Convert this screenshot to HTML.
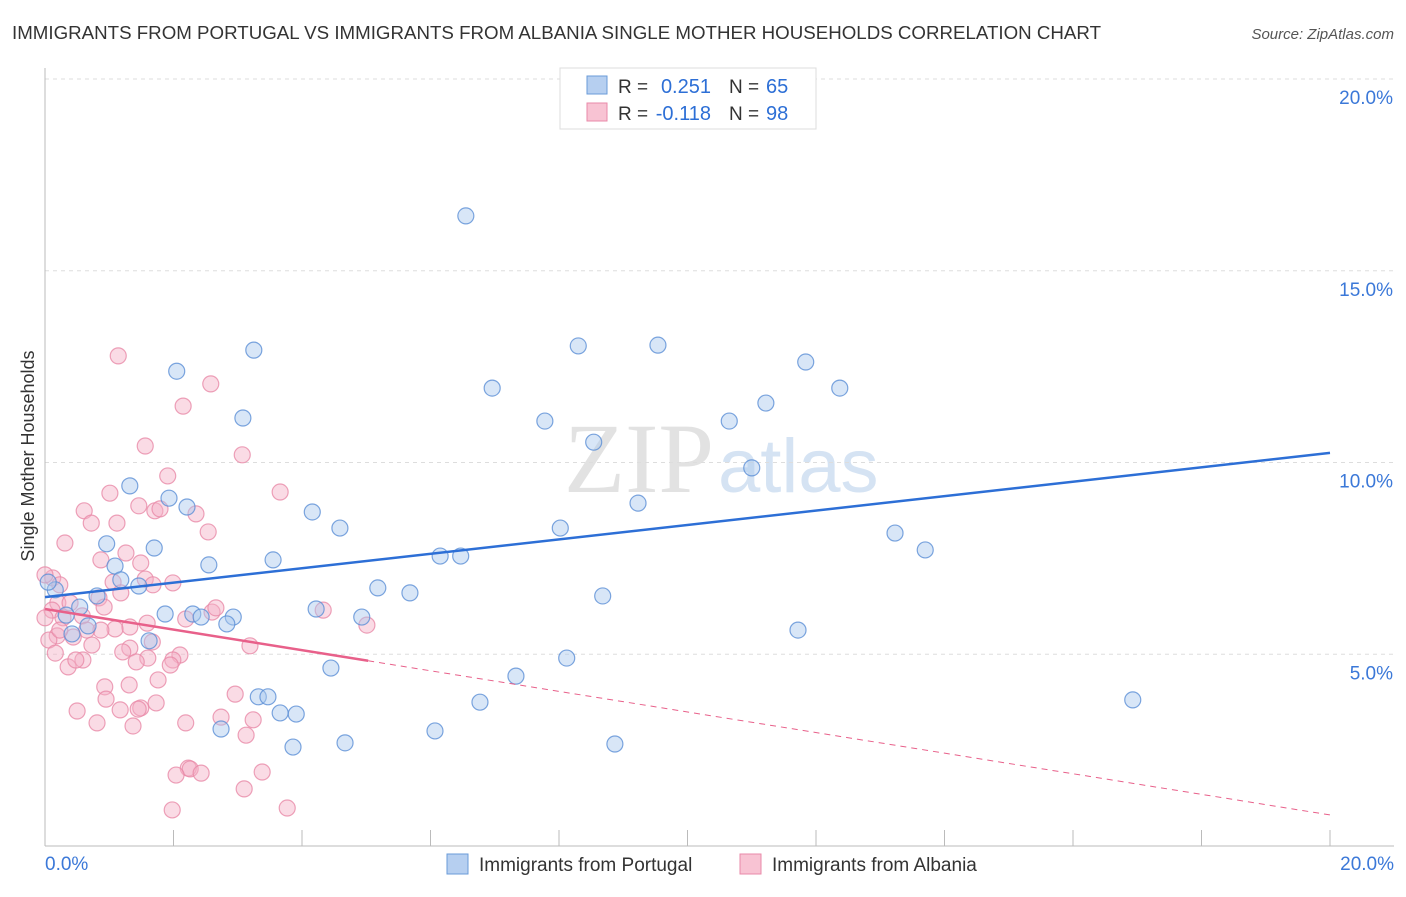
<!DOCTYPE html>
<html><head><meta charset="utf-8"><style>
body{margin:0;background:#fff;font-family:"Liberation Sans",sans-serif;}
svg text{font-family:"Liberation Sans",sans-serif;}
</style></head><body>
<svg id="chart" width="1406" height="892" viewBox="0 0 1406 892">
<text x="12" y="39" font-size="18" fill="#333" textLength="1089" lengthAdjust="spacingAndGlyphs">IMMIGRANTS FROM PORTUGAL VS IMMIGRANTS FROM ALBANIA SINGLE MOTHER HOUSEHOLDS CORRELATION CHART</text>
<text x="1394" y="39" font-size="15" fill="#555" font-style="italic" text-anchor="end">Source: ZipAtlas.com</text>
<text x="714" y="492" font-size="100" fill="#e2e2e2" text-anchor="end" font-family="Liberation Serif" style="font-family:'Liberation Serif',serif">ZIP</text>
<text x="718" y="492" font-size="76" fill="#d5e3f3">atlas</text>
<g id="grid"></g><g id="axes"></g><g id="marks"></g>
<text transform="translate(34,456) rotate(-90)" font-size="18" fill="#333" text-anchor="middle">Single Mother Households</text>
<g>
<rect x="560" y="68" width="256" height="61" fill="#fff" stroke="#ddd"/>
<rect x="587" y="76" width="20" height="18" fill="#b6cff0" stroke="#6a9bd8"/>
<rect x="587" y="103" width="20" height="18" fill="#f8c3d3" stroke="#e98aa8"/>
<text x="618" y="93" font-size="19" fill="#333">R =</text>
<text x="711" y="93" font-size="20" fill="#2d6fd6" text-anchor="end">0.251</text>
<text x="729" y="93" font-size="19" fill="#333">N =</text>
<text x="766" y="93" font-size="20" fill="#2d6fd6">65</text>
<text x="618" y="120" font-size="19" fill="#333">R =</text>
<text x="711" y="120" font-size="20" fill="#2d6fd6" text-anchor="end">-0.118</text>
<text x="729" y="120" font-size="19" fill="#333">N =</text>
<text x="766" y="120" font-size="20" fill="#2d6fd6">98</text>
</g>
<g>
<rect x="447" y="854" width="21" height="20" fill="#b6cff0" stroke="#6a9bd8"/>
<text x="479" y="871" font-size="19" fill="#333">Immigrants from Portugal</text>
<rect x="740" y="854" width="21" height="20" fill="#f8c3d3" stroke="#e98aa8"/>
<text x="772" y="871" font-size="19" fill="#333">Immigrants from Albania</text>
</g>
</svg>
<script>
const yTicks=[5,10,15,20];
const yTickLabels=["5.0%","10.0%","15.0%","20.0%"];
const xTickLabels=["0.0%","20.0%"];
const blueX=[6.55,3.25,8.30,9.54,2.05,11.84,6.96,12.37,3.08,7.78,10.65,11.22,8.54,11.00,1.32,1.93,2.21,4.16,4.59,9.23,8.02,13.23,13.70,0.96,1.70,2.55,3.55,6.15,6.47,1.09,1.18,1.46,0.81,5.18,5.68,8.68,0.16,0.05,0.54,0.33,1.87,2.30,2.43,2.93,2.83,4.22,4.93,0.67,0.42,1.62,11.72,8.12,4.45,7.33,6.77,3.32,3.47,3.66,3.91,2.74,6.07,3.86,4.67,8.87,16.93];
const blueY=[16.43,12.93,13.04,13.06,12.38,12.62,11.94,11.94,11.16,11.08,11.08,11.55,10.53,9.86,9.39,9.07,8.84,8.71,8.29,8.94,8.29,8.16,7.72,7.88,7.77,7.33,7.46,7.56,7.56,7.30,6.94,6.78,6.52,6.73,6.60,6.52,6.68,6.88,6.23,6.02,6.05,6.05,5.97,5.97,5.79,6.18,5.97,5.74,5.53,5.35,5.63,4.90,4.64,4.43,3.75,3.89,3.89,3.47,3.44,3.05,3.00,2.58,2.69,2.66,3.81];
const pinkX=[1.14,2.58,2.15,1.56,3.07,1.91,1.01,3.66,0.61,1.71,1.46,1.79,2.35,0.72,1.12,2.54,0.31,1.26,0.87,1.49,0.12,0.23,1.06,1.56,1.68,1.99,1.18,0.84,0.20,0.39,0.92,0.58,0.11,0.28,2.60,2.66,4.33,2.19,1.59,1.32,1.09,0.87,0.65,5.01,0.19,0.44,0.06,0.73,1.32,1.21,1.67,0.16,3.19,2.10,0.59,0.36,1.60,1.42,1.99,1.95,0.48,1.31,0.93,1.76,0.95,2.96,1.73,1.49,1.45,1.17,0.50,0.81,2.74,3.24,2.19,1.37,3.13,2.23,2.26,2.43,2.04,3.38,3.10,1.98,3.77,0.00,0.00,0.23];
const pinkY=[12.78,12.05,11.47,10.43,10.20,9.65,9.20,9.23,8.74,8.74,8.87,8.79,8.66,8.42,8.42,8.19,7.90,7.64,7.46,7.38,6.99,6.81,6.88,6.96,6.81,6.86,6.60,6.47,6.34,6.34,6.23,6.00,6.15,5.95,6.10,6.21,6.15,5.92,5.81,5.71,5.66,5.63,5.63,5.76,5.48,5.45,5.37,5.24,5.16,5.06,5.32,5.03,5.22,4.98,4.85,4.67,4.90,4.80,4.85,4.72,4.85,4.20,4.15,4.33,3.83,3.96,3.73,3.60,3.57,3.55,3.52,3.21,3.36,3.29,3.21,3.13,2.89,2.03,2.01,1.90,1.85,1.93,1.49,0.94,0.99,7.07,5.95,5.63];
const blueTrend=[6.49,10.25];
const pinkTrend=[6.18,0.81];
const pinkSolidEnd=5.03;

const NS="http://www.w3.org/2000/svg";
const X=v=>45+v/20*1285;
const Y=v=>846-v/20*767;
function mk(tag,attrs,parent){const e=document.createElementNS(NS,tag);for(const k in attrs)e.setAttribute(k,attrs[k]);parent.appendChild(e);return e;}
const grid=document.getElementById('grid'),axes=document.getElementById('axes'),marks=document.getElementById('marks');
yTicks.forEach((t,i)=>{
 const l=mk('line',{x1:45,x2:1394,y1:Y(t),y2:Y(t),stroke:'#ddd','stroke-dasharray':'4,4'},grid);
 
 
 const tx=mk('text',{x:1393,y:Y(t)+25,'font-size':19,fill:'#3b78d8','text-anchor':'end'},axes);
 tx.textContent=yTickLabels[i];
 
 
});
const ya=mk('line',{x1:45,x2:45,y1:68,y2:846,stroke:'#bbb'},axes);


const xa=mk('line',{x1:45,x2:1394,y1:846,y2:846,stroke:'#bbb'},axes);


for(let i=0;i<=10;i++){
 const t=mk('line',{x1:X(i*2),x2:X(i*2),y1:830,y2:846,stroke:'#bbb'},axes);
 
 
}
[[0,'start',45],[20,'end',1394]].forEach((d,i)=>{
 const tx=mk('text',{x:d[2],y:870,'font-size':19,fill:'#3b78d8','text-anchor':d[1]},axes);
 tx.textContent=xTickLabels[i];
 
 
});
function dots(xs,ys,fill,stroke,name){
 xs.forEach((v,i)=>{
  const c=mk('circle',{cx:X(v),cy:Y(ys[i]),r:8,fill:fill,'fill-opacity':0.45,stroke:stroke,'stroke-opacity':0.8,'stroke-width':1.2},marks);
  
  
 });
}
dots(pinkX,pinkY,'#f5b0c6','#e98aa8','albania-point');
dots(blueX,blueY,'#a9c7ee','#5b8fd6','portugal-point');
const pe=pinkTrend[0]+(pinkTrend[1]-pinkTrend[0])*pinkSolidEnd/20;
const pd=mk('line',{x1:X(pinkSolidEnd),y1:Y(pe),x2:X(20),y2:Y(pinkTrend[1]),stroke:'#e8608a','stroke-width':1,'stroke-dasharray':'6,5'},marks);


const ps=mk('line',{x1:X(0),y1:Y(pinkTrend[0]),x2:X(pinkSolidEnd),y2:Y(pe),stroke:'#e8608a','stroke-width':2.5},marks);


const bt=mk('line',{x1:X(0),y1:Y(blueTrend[0]),x2:X(20),y2:Y(blueTrend[1]),stroke:'#2d6fd6','stroke-width':2.5},marks);


</script>
</body></html>
